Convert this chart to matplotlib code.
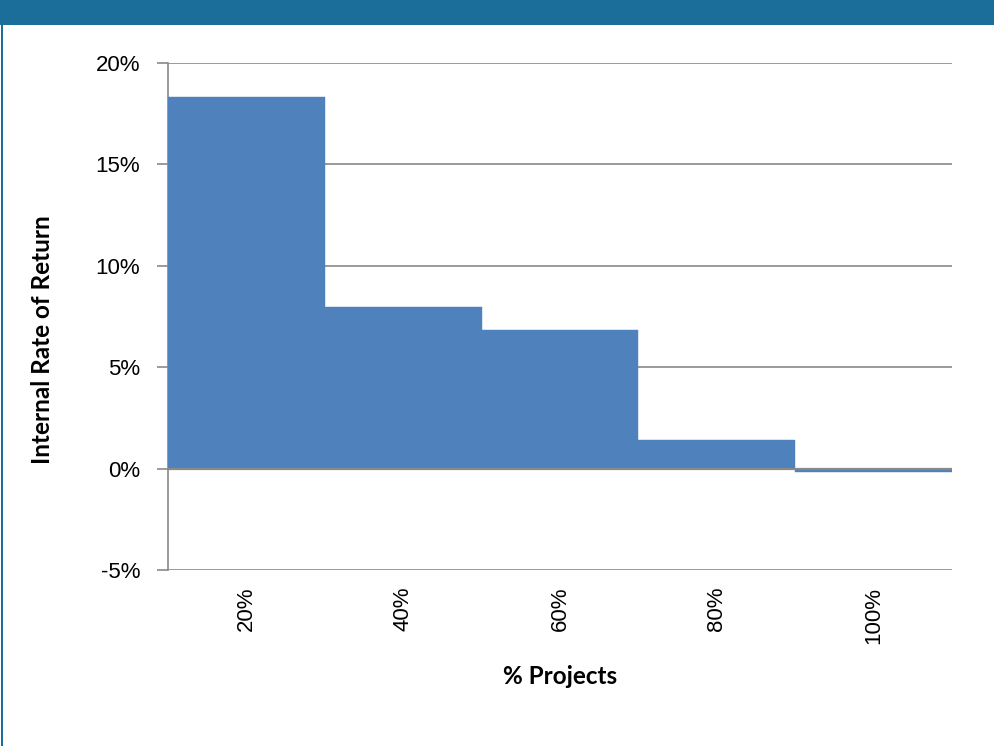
import matplotlib.pyplot as plt
from matplotlib.patches import Rectangle
from matplotlib.ticker import FuncFormatter

# Share of projects (category) and internal rate of return per bucket
categories = ["20%", "40%", "60%", "80%", "100%"]
irr = [18.3, 7.95, 6.85, 1.4, -0.15]

band_color = "#1B6E9A"
bar_color = "#4F81BD"
grid_color = "#898989"

fig = plt.figure(figsize=(9.95, 7.46), dpi=100)
fig.patch.set_facecolor("white")

# header band and left frame line
fig.patches.append(Rectangle((0, 1 - 25 / 746), 1, 25 / 746, transform=fig.transFigure,
                             facecolor=band_color, edgecolor="none", zorder=0))
fig.patches.append(Rectangle((1 / 995, 0), 2 / 995, 1 - 25 / 746, transform=fig.transFigure,
                             facecolor=band_color, edgecolor="none", zorder=0))

ax = fig.add_axes([168 / 995, (746 - 570) / 746, (952 - 168) / 995, (570 - 63) / 746])

x = list(range(len(categories)))
ax.bar(x, irr, width=1.0, color=bar_color, edgecolor=bar_color, linewidth=0.3, zorder=3)

ax.set_xlim(-0.5, len(categories) - 0.5)
ax.set_ylim(-5, 20)
ax.set_yticks([-5, 0, 5, 10, 15, 20])
ax.yaxis.set_major_formatter(FuncFormatter(lambda v, p: f"{v:.0f}%"))
ax.grid(axis="y", color=grid_color, linewidth=1.2, zorder=0)
ax.axhline(0, color=grid_color, linewidth=1.6, zorder=4)

ax.set_xticks(x)
ax.set_xticklabels(categories, rotation=90, fontsize=16, family="Liberation Sans")
ax.tick_params(axis="x", length=0, pad=12)
ax.tick_params(axis="y", length=8, width=1.2, color=grid_color, pad=12, labelsize=16)
for lbl in ax.get_yticklabels():
    lbl.set_family("Liberation Sans")

for side in ["top", "right", "bottom"]:
    ax.spines[side].set_visible(False)
ax.spines["left"].set_color(grid_color)
ax.spines["left"].set_linewidth(1.2)

ax.set_xlabel("% Projects", fontsize=17.5, fontweight="bold", family="Lato", labelpad=15)
ax.set_ylabel("Internal Rate of Return", fontsize=17.5, fontweight="bold", family="Lato")
ax.yaxis.set_label_coords(-0.146, 0.455)

fig.savefig("out.png", dpi=100)
